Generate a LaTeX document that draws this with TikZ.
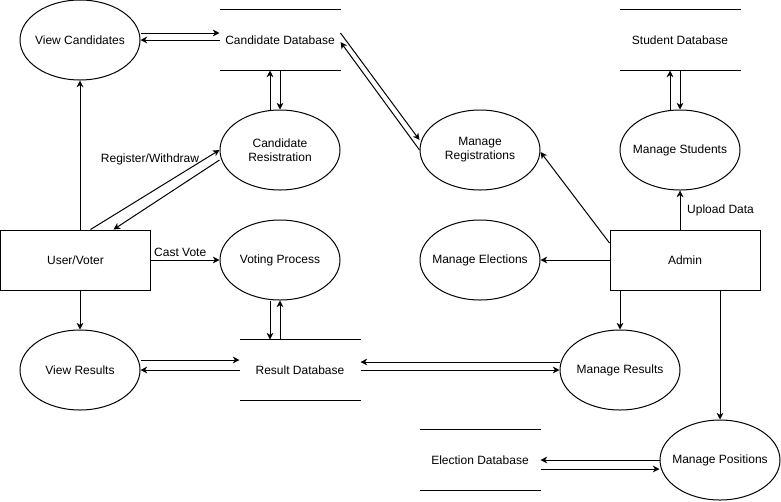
\documentclass[tikz,border=0pt]{standalone}
\usepackage{fontspec}
\setmainfont{Liberation Sans}
\usepackage{tikz}
\usetikzlibrary{arrows.meta,calc,shapes.geometric}
\tikzset{
  procbox/.style={draw, ellipse, align=center, inner xsep=-10pt, inner ysep=0pt, minimum width=90pt, minimum height=60pt, font=\fontsize{9}{10.5}\selectfont},
  storebox/.style={align=center, inner sep=0pt, minimum width=90pt, minimum height=45pt, font=\fontsize{9}{10.5}\selectfont},
  entitybox/.style={draw, align=center, inner sep=0pt, minimum width=112.5pt, minimum height=45pt, font=\fontsize{9}{10.5}\selectfont},
  arrow/.style={-{Stealth[length=5pt, width=5pt, inset=1.5pt]}},
  flowlabel/.style={font=\fontsize{9}{10.5}\selectfont, inner sep=2pt}
}

\begin{document}
\begin{tikzpicture}[x=0.75pt, y=-0.75pt, line width=0.75pt]
  \useasboundingbox (0,0) rectangle (781,501);

  \node[procbox] (vc) at (80,40) {View Candidates};
  \node[storebox] (cdb) at (280,40) {Candidate Database};
  \node[procbox] (cr) at (280,150) {Candidate\\Resistration};
  \node[procbox] (mreg) at (480,150) {Manage\\Registrations};
  \node[storebox] (sdb) at (680,40) {Student Database};
  \node[procbox] (ms) at (680,150) {Manage Students};
  \node[entitybox] (uv) at (75.5,260) {User/Voter};
  \node[procbox] (vp) at (280,260) {Voting Process};
  \node[procbox] (me) at (480,260) {Manage Elections};
  \node[entitybox] (admin) at (685,260) {Admin};
  \node[procbox] (vr) at (80,370) {View Results};
  \node[storebox] (rdb) at (300,370) {Result Database};
  \node[procbox] (mres) at (620,370) {Manage Results};
  \node[storebox] (edb) at (480,460) {Election Database};
  \node[procbox] (mp) at (720,460) {Manage Positions};

  % data store lines
  \foreach \d in {cdb,sdb,rdb,edb}
    \draw (\d.north west) -- (\d.north east) (\d.south west) -- (\d.south east);

  % user side
  \draw[arrow] ($(vc.east)+(0,-7)$) -- ($(cdb.west)+(0,-7)$);
  \draw[arrow] (cdb.west) -- (vc.east);
  \draw[arrow] ($(cr.north)+(-10,0)$) -- ($(cdb.south)+(-10,0)$);
  \draw[arrow] (cdb.south) -- (cr.north);
  \draw[arrow] (vc |- uv.north) -- (vc.south);
  \draw[arrow] (vr |- uv.south) -- (vr.north);
  \draw[arrow] (uv.east) -- node[flowlabel, above right, pos=0] {Cast Vote} (vp.west);
  \draw[arrow] ($(uv.north)+(15,0)$) -- node[flowlabel, midway, shift={(-5,-30)}] {Register/Withdraw} (cr.west);
  \draw[arrow] ($(cr.west)+(0,10)$) -- ($(uv.north)+(38,0)$);
  \draw[arrow] ($(vp.south)+(-10,0)$) -- ($(vp.south |- rdb.north)+(-10,0)$);
  \draw[arrow] (vp.south |- rdb.north) -- (vp.south);
  \draw[arrow] ($(vr.east)+(0,-10)$) -- ($(rdb.west)+(0,-10)$);
  \draw[arrow] (rdb.west) -- (vr.east);

  % admin side
  \draw[arrow] ($(cdb.east)+(0,-7)$) -- ($(mreg.west)+(0,-10)$);
  \draw[arrow] (mreg.west) -- ($(cdb.east)+(0,2)$);
  \draw[arrow] ($(ms.north)+(-10,0)$) -- ($(sdb.south)+(-10,0)$);
  \draw[arrow] (sdb.south) -- (ms.north);
  \draw[arrow] (ms |- admin.north) -- node[flowlabel, midway, right=3pt] {Upload Data} (ms.south);
  \draw[arrow] ($(admin.west)+(0,-17)$) -- ($(mreg.east)+(0,2)$);
  \draw[arrow] (admin.west) -- (me.east);
  \draw[arrow] (mres |- admin.south) -- (mres.north);
  \draw[arrow] (mp |- admin.south) -- (mp.north);
  \draw[arrow] ($(mres.west)+(0,-8)$) -- ($(rdb.east)+(0,-8)$);
  \draw[arrow] (rdb.east) -- (mres.west);
  \draw[arrow] (mp.west) -- (edb.east);
  \draw[arrow] ($(edb.east)+(0,9)$) -- ($(mp.west)+(0,9)$);
\end{tikzpicture}
\end{document}
